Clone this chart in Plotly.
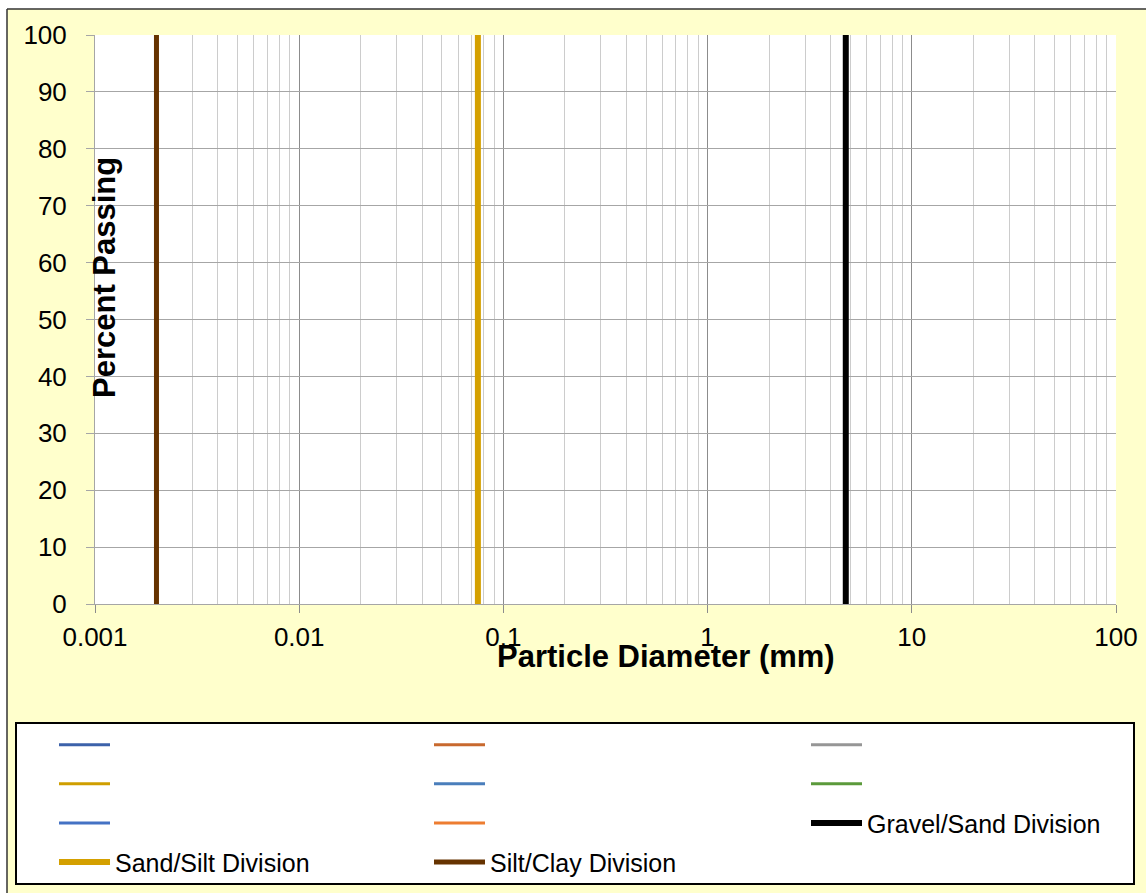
import plotly.graph_objects as go

# ---------------- data ----------------
series_names = ["", "", "", "", "", "", "", ""]
series_x = [[None], [None], [None], [None], [None], [None], [None], [None]]
series_y = [[None], [None], [None], [None], [None], [None], [None], [None]]

division_names = ["Gravel/Sand Division", "Sand/Silt Division", "Silt/Clay Division"]
division_sizes_mm = [4.75, 0.075, 0.002]
percent_span = [0, 100]

x_tick_vals = [0.001, 0.01, 0.1, 1, 10, 100]
x_tick_text = ["0.001", "0.01", "0.1", "1", "10", "100"]
y_tick_vals = [0, 10, 20, 30, 40, 50, 60, 70, 80, 90, 100]

# ---------------- styles ----------------
series_colors = ["#3C62AA", "#C8692E", "#969696", "#CF9E00",
                 "#4A7EBB", "#5B9A3B", "#4472C4", "#ED7D31"]
series_legends = ["legend", "legend2", "legend3", "legend", "legend2",
                  "legend3", "legend", "legend2"]
division_colors = ["#000000", "#D4A000", "#663300"]
division_widths = [6, 6, 5]
division_legends = ["legend3", "legend", "legend2"]

FONT = "Liberation Sans, Arial, sans-serif"
W, H = 1146, 893
L, R, T, B = 95, 30, 35, 289
PW, PH = W - L - R, H - T - B


def px_x(px):
    return (px - L) / PW


def px_y(py):
    return (H - B - py) / PH


fig = go.Figure()

for i, (nm, xs, ys) in enumerate(zip(series_names, series_x, series_y)):
    fig.add_trace(go.Scatter(
        x=xs, y=ys, name=nm, mode="lines",
        line=dict(color=series_colors[i], width=3),
        legend=series_legends[i], legendgroup=f"s{i}", showlegend=True,
    ))

for i, (nm, d) in enumerate(zip(division_names, division_sizes_mm)):
    fig.add_trace(go.Scatter(
        x=[d, d], y=percent_span, name=nm, mode="lines",
        line=dict(color=division_colors[i], width=division_widths[i]),
        legend=division_legends[i], legendgroup=f"d{i}", showlegend=True,
    ))

legend_common = dict(
    orientation="v", xanchor="left", yanchor="top",
    bgcolor="rgba(0,0,0,0)", borderwidth=0,
    font=dict(family=FONT, size=25, color="#000000"),
    tracegroupgap=3.6, itemwidth=51,
)
legend_top = px_y(722)
fig.update_layout(
    legend=dict(x=px_x(54), y=legend_top, **legend_common),
    legend2=dict(x=px_x(429), y=legend_top, **legend_common),
    legend3=dict(x=px_x(806), y=legend_top, **legend_common),
)

fig.update_layout(
    width=W, height=H,
    margin=dict(l=L, r=R, t=T, b=B, pad=0, autoexpand=False),
    paper_bgcolor="#FFFFCC",
    plot_bgcolor="#FFFFFF",
    font=dict(family=FONT, color="#000000"),
    showlegend=True,
    xaxis=dict(
        type="log", range=[-3, 2],
        tickvals=x_tick_vals, ticktext=x_tick_text,
        tickfont=dict(family=FONT, size=26, color="#000000"),
        ticks="outside", ticklen=8, tickcolor="#8C8C8C", tickwidth=1,
        ticklabelstandoff=2,
        showgrid=True, gridcolor="#8C8C8C", gridwidth=1,
        showline=True, linecolor="#A6A6A6", linewidth=1,
        minor=dict(dtick="D1", showgrid=True, gridcolor="#CCCCCC",
                   gridwidth=1, ticks=""),
        zeroline=False, automargin=False,
    ),
    yaxis=dict(
        range=[0, 100], tickvals=y_tick_vals,
        tickfont=dict(family=FONT, size=26, color="#000000"),
        ticks="outside", ticklen=8, tickcolor="#A6A6A6", tickwidth=1,
        ticklabelstandoff=14,
        showgrid=True, gridcolor="#A6A6A6", gridwidth=1,
        showline=True, linecolor="#A6A6A6", linewidth=1,
        zeroline=False, automargin=False,
    ),
)

# axis titles
fig.add_annotation(
    text="<b>Percent Passing</b>", xref="paper", yref="paper",
    x=px_x(104), y=px_y(278), textangle=-90, showarrow=False,
    xanchor="center", yanchor="middle",
    font=dict(family=FONT, size=31, color="#000000"),
)
fig.add_annotation(
    text="<b>Particle Diameter (mm)</b>", xref="paper", yref="paper",
    x=px_x(666), y=px_y(656), showarrow=False,
    xanchor="center", yanchor="middle",
    font=dict(family=FONT, size=31, color="#000000"),
)

# outer chart frame (white outside, yellow inside)
fig.add_shape(type="rect", xref="paper", yref="paper",
              x0=px_x(-5), x1=px_x(1160), y0=px_y(9), y1=px_y(-5),
              fillcolor="#FFFFFF", line=dict(width=0), layer="below")
fig.add_shape(type="rect", xref="paper", yref="paper",
              x0=px_x(-5), x1=px_x(7), y0=px_y(900), y1=px_y(-5),
              fillcolor="#FFFFFF", line=dict(width=0), layer="below")
fig.add_shape(type="line", xref="paper", yref="paper",
              x0=px_x(7), x1=px_x(1160), y0=px_y(9), y1=px_y(9),
              line=dict(color="#333333", width=1.5), layer="below")
fig.add_shape(type="line", xref="paper", yref="paper",
              x0=px_x(7), x1=px_x(7), y0=px_y(9), y1=px_y(900),
              line=dict(color="#333333", width=1.5), layer="below")

# legend box
fig.add_shape(type="rect", xref="paper", yref="paper",
              x0=px_x(16), x1=px_x(1134), y0=px_y(884), y1=px_y(723),
              fillcolor="#FFFFFF", line=dict(color="#000000", width=2),
              layer="below")

fig.write_html(
    "out.html",
    config={"displayModeBar": False},
    post_script="document.body.style.margin='0';document.body.style.overflow='hidden';",
)
